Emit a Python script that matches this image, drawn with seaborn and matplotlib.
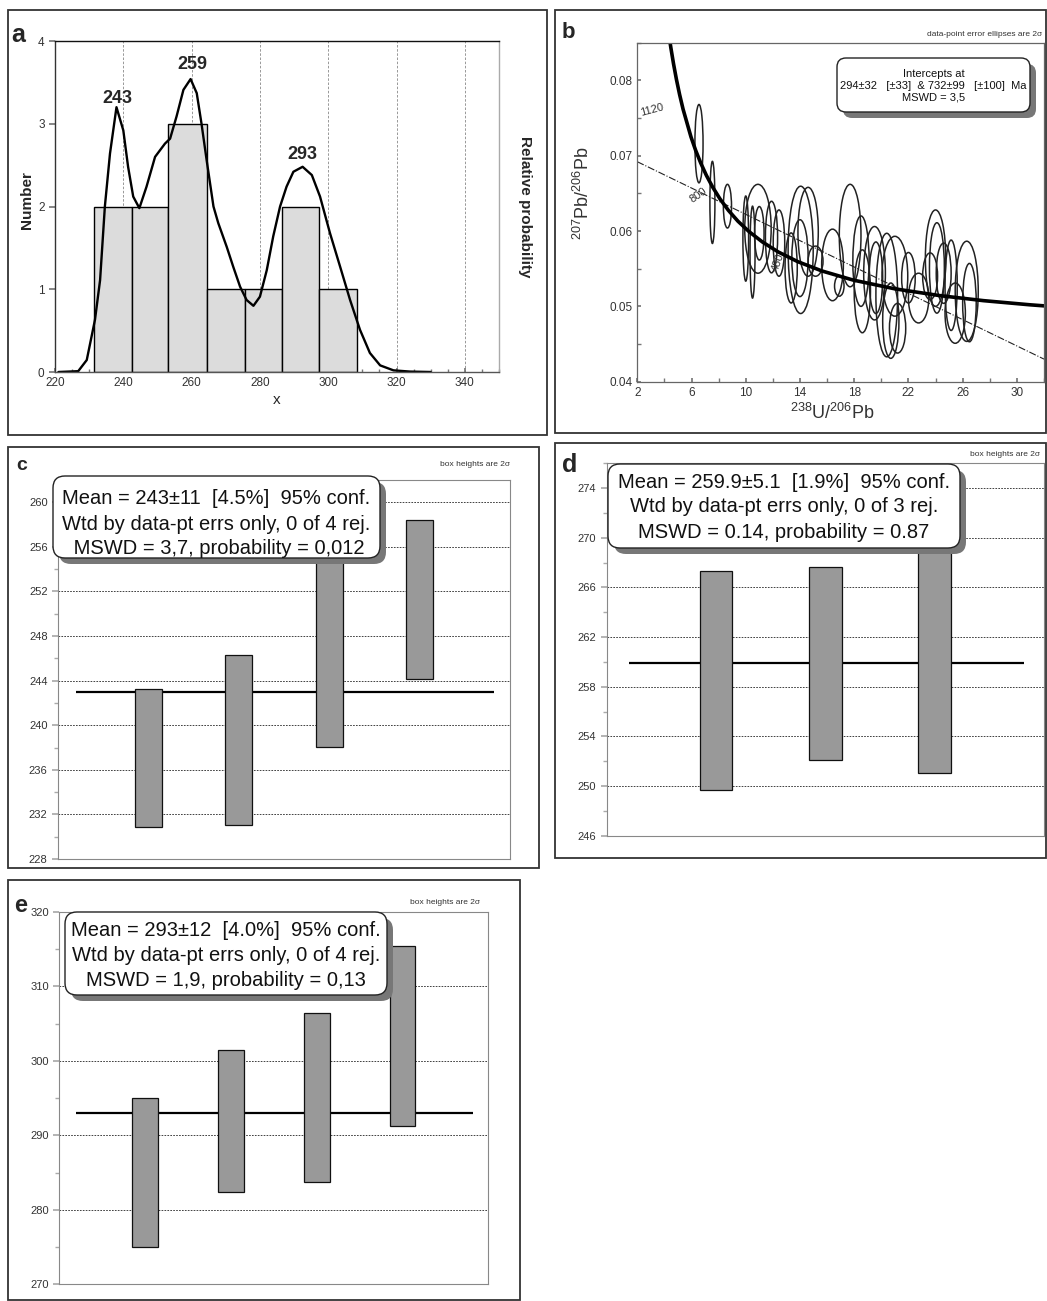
import numpy as np
import matplotlib
matplotlib.use("Agg")
import matplotlib.pyplot as plt
from matplotlib.patches import Ellipse, FancyBboxPatch, Rectangle
from matplotlib.ticker import MultipleLocator, FormatStrFormatter
from matplotlib.transforms import Affine2D
import seaborn as sns

W, H = 1047, 1301

# ---- panel a: histogram + probability curve
hist_edges = [231.4, 242.4, 253.2, 264.4, 275.6, 286.4, 297.4, 308.5]
hist_counts = [2, 2, 3, 1, 1, 2, 1]
curve_x = [221, 226.8, 229.3, 231.7, 233.2, 234.6, 236.1, 238.0, 240.0, 241.4, 242.9,
           244.7, 246.8, 249.3, 252.2, 253.7, 255.6, 257.6, 259.7, 261.5, 262.9, 264.4,
           266.4, 267.8, 270.3, 272.2, 274.2, 276.1, 278.1, 280.0, 282.0, 283.9, 285.9,
           287.8, 289.8, 292.5, 295.2, 297.6, 300.5, 303.5, 306.4, 309.3, 312.2, 315.2,
           319.1, 324.0, 330.0]
curve_y = [0.0, 0.01, 0.145, 0.63, 1.11, 2.0, 2.64, 3.20, 2.92, 2.48, 2.12,
           1.98, 2.24, 2.60, 2.76, 2.82, 3.09, 3.41, 3.54, 3.37, 3.0, 2.56,
           2.0, 1.80, 1.51, 1.27, 1.03, 0.87, 0.80, 0.91, 1.23, 1.64, 2.0,
           2.24, 2.42, 2.48, 2.38, 2.12, 1.68, 1.27, 0.87, 0.51, 0.23, 0.08,
           0.02, 0.005, 0.0]
peak_labels = ["243", "259", "293"]

# ---- panel b: Tera-Wasserburg
conc_x = [4.364, 4.476, 4.673, 4.887, 5.120, 5.374, 5.959, 6.298, 6.674, 7.095, 7.568,
          8.105, 8.718, 9.426, 10.252, 11.228, 12.399, 13.831, 15.620, 17.921, 20.99,
          24.30, 27.53, 30.95, 32.06]
conc_y = [0.08565, 0.08432, 0.08219, 0.08012, 0.07812, 0.07619, 0.07250, 0.07074,
          0.06905, 0.06739, 0.06580, 0.06425, 0.06275, 0.06130, 0.05991, 0.05855,
          0.05722, 0.05594, 0.05470, 0.05349, 0.05233, 0.05143, 0.05076, 0.05021,
          0.05006]
disc_x = [2, 32]
disc_y = [0.0692, 0.0430]
ell_x = [6.55, 7.54, 8.65, 10.0, 10.9, 10.5, 11.0, 11.9, 12.45, 14.05, 14.0, 14.6,
         13.35, 15.15, 16.4, 16.9, 17.7, 18.5, 18.6, 19.5, 19.6, 20.4, 21.0, 20.7,
         21.2, 22.0, 22.75, 24.0, 24.1, 23.6, 24.6, 25.15, 25.45, 26.3, 26.5]
ell_y = [0.0716, 0.0638, 0.0633, 0.0590, 0.0603, 0.0572, 0.0597, 0.0592, 0.0584,
         0.0575, 0.0564, 0.0599, 0.0551, 0.0560, 0.0555, 0.0527, 0.0594, 0.0560,
         0.0520, 0.0544, 0.0538, 0.0515, 0.0540, 0.0481, 0.0471, 0.0538, 0.0511,
         0.0564, 0.0551, 0.0540, 0.0544, 0.0528, 0.0491, 0.0520, 0.0505]
ell_w = [0.6, 0.37, 0.6, 0.42, 1.95, 0.37, 0.7, 0.9, 0.85, 1.85, 1.2, 1.5,
         0.9, 1.1, 1.6, 0.7, 1.6, 1.2, 1.2, 1.6, 1.0, 1.6, 1.9, 1.2,
         1.2, 1.0, 1.5, 1.5, 1.1, 1.1, 1.1, 0.9, 1.5, 1.7, 1.0]
ell_h = [0.0104, 0.0109, 0.0058, 0.0113, 0.0118, 0.0122, 0.0071, 0.0095, 0.0088,
         0.0169, 0.0102, 0.0118, 0.0093, 0.0040, 0.0095, 0.0027, 0.0136, 0.0120,
         0.0110, 0.0124, 0.0095, 0.0164, 0.0106, 0.0100, 0.0066, 0.0067, 0.0066,
         0.0128, 0.0120, 0.0062, 0.0080, 0.0120, 0.0080, 0.0133, 0.0104]
conc_ages = ["1120", "800", "480"]

# ---- panels c, d, e: weighted means
c_lo = [230.9, 231.05, 238.05, 244.15]
c_hi = [243.26, 246.3, 257.0, 258.4]
c_mean = 243
d_lo = [249.65, 252.1, 251.05]
d_hi = [267.3, 267.64, 272.5]
d_mean = 259.9
e_lo = [275.05, 282.4, 283.8, 291.3]
e_hi = [295.0, 301.5, 306.4, 315.5]
e_mean = 293

sns.set_theme(style="white")
plt.rcParams['font.family'] = ['Liberation Sans', 'DejaVu Sans']
plt.rcParams['mathtext.fontset'] = 'custom'
plt.rcParams['mathtext.rm'] = 'Liberation Sans'
plt.rcParams['mathtext.it'] = 'Liberation Sans:italic'

fig = plt.figure(figsize=(W / 100, H / 100), dpi=100)
px = Affine2D().scale(1.0 / W, -1.0 / H).translate(0, 1) + fig.transFigure


def add_ax(x0, y0, x1, y1):
    return fig.add_axes([x0 / W, 1 - y1 / H, (x1 - x0) / W, (y1 - y0) / H])


def frame(x0, y0, x1, y1):
    fig.add_artist(Rectangle((x0, y0), x1 - x0, y1 - y0, transform=px, fill=False,
                             ec='#333333', lw=1.3, zorder=0))


def note_box(x0, y0, x1, y1, txt, size, sh=6, r=12, dy=2, ls=1.2):
    fig.add_artist(FancyBboxPatch((x0 + sh, y0 + sh), x1 - x0, y1 - y0,
                                  boxstyle="round,pad=0,rounding_size=%d" % r,
                                  transform=px, fc='#777777', ec='none', zorder=5))
    fig.add_artist(FancyBboxPatch((x0, y0), x1 - x0, y1 - y0,
                                  boxstyle="round,pad=0,rounding_size=%d" % r,
                                  transform=px, fc='white', ec='#222222', lw=1.0, zorder=6))
    fig.text((x0 + x1) / 2, (y0 + y1) / 2 + dy, txt, transform=px, ha='center', va='center',
             fontsize=size, linespacing=ls, color='#111111', zorder=7)


# panel frames
frame(8, 10, 547, 435)
frame(555, 10, 1046, 433)
frame(8, 447, 539, 868)
frame(555, 443, 1046, 858)
frame(8, 880, 520, 1300)

# ---------------- a
ax = add_ax(55, 41, 499, 372)
mids = [(hist_edges[i] + hist_edges[i + 1]) / 2 for i in range(len(hist_counts))]
sns.histplot(x=mids, weights=hist_counts, bins=hist_edges, ax=ax, color='#dcdcdc',
             edgecolor='black', linewidth=1.0, alpha=1)
for g in [240, 260, 280, 300, 320, 340]:
    ax.axvline(g, color='#888888', lw=0.6, ls=(0, (3, 2)), zorder=0.5)
sns.lineplot(x=curve_x, y=curve_y, ax=ax, color='black', lw=1.7, sort=False)
ax.set_xlim(220, 350)
ax.set_ylim(0, 4)
ax.set_xticks(range(220, 341, 20))
ax.set_yticks(range(0, 5))
ax.xaxis.set_minor_locator(MultipleLocator(5))
ax.tick_params(axis='x', which='both', direction='in', length=3, color='#777777',
               labelsize=8.5, labelcolor='#333333', bottom=True)
ax.tick_params(axis='x', which='minor', length=2)
ax.tick_params(axis='y', direction='out', length=4, color='#777777', labelsize=8.5,
               labelcolor='#333333', left=True)
ax.set_xlabel("")
ax.set_ylabel("")
for s, c in [('left', '#333333'), ('bottom', '#555555'), ('top', '#111111'), ('right', '#aaaaaa')]:
    ax.spines[s].set_color(c)
    ax.spines[s].set_linewidth(1.0)
for lab, xx, yy in zip(peak_labels, [238.4, 260.1, 292.3], [3.30, 3.71, 2.63]):
    ax.text(xx, yy, lab, ha='center', va='center', fontsize=13, fontweight='bold')
fig.text(18, 35, "a", transform=px, fontsize=18, fontweight='bold', ha='center', va='center')
fig.text(27, 200, "Number", transform=px, rotation=90, fontsize=11, fontweight='bold',
         ha='center', va='center')
fig.text(525, 207, "Relative probability", transform=px, rotation=-90, fontsize=11,
         fontweight='bold', ha='center', va='center')
fig.text(277, 400, "x", transform=px, fontsize=11, ha='center', va='center')

# ---------------- b
ax = add_ax(637.3, 42.7, 1044, 381.7)
ax.plot(disc_x, disc_y, color='#222222', lw=0.8, ls='-.')
for x, y, w, h in zip(ell_x, ell_y, ell_w, ell_h):
    ax.add_patch(Ellipse((x, y), w, h, fill=False, ec='#222222', lw=1.1))
sns.lineplot(x=conc_x, y=conc_y, ax=ax, color='black', lw=2.6, sort=False)
ax.set_xlim(2, 32)
ax.set_ylim(0.04, 0.085)
ax.set_xticks(range(2, 31, 4))
ax.xaxis.set_minor_locator(MultipleLocator(2))
ax.set_yticks([0.04, 0.05, 0.06, 0.07, 0.08])
ax.yaxis.set_minor_locator(MultipleLocator(0.005))
ax.yaxis.set_major_formatter(FormatStrFormatter('%.2f'))
ax.tick_params(which='both', direction='in', length=3, color='#777777', labelsize=8.5,
               labelcolor='#333333', bottom=True, left=True)
ax.set_xlabel("")
ax.set_ylabel("")
for s in ax.spines.values():
    s.set_color('#666666')
    s.set_linewidth(0.9)
for lab, xx, yy, rot in zip(conc_ages, [3.06, 6.48, 12.37], [0.0761, 0.0648, 0.0558], [15, 35, 70]):
    ax.text(xx, yy, lab, ha='center', va='center', fontsize=8, color='#333333', rotation=rot)
fig.text(568, 33, "b", transform=px, fontsize=16, fontweight='bold', ha='center', va='center')
fig.text(1042, 35, "data-point error ellipses are 2σ", transform=px, fontsize=6,
         ha='right', va='center', color='#333333')
fig.text(583, 193, "$^{207}$Pb/$^{206}$Pb", transform=px, rotation=90, fontsize=13,
         ha='center', va='center', color='#333333')
fig.text(832, 413, "$^{238}$U/$^{206}$Pb", transform=px, fontsize=13,
         ha='center', va='center', color='#333333')
note_box(837, 58, 1030, 112, "Intercepts at\n294±32   [±33]  & 732±99   [±100]  Ma\nMSWD = 3,5",
         8, sh=6, r=9, dy=1, ls=1.25)


# ---------------- c, d, e
def mean_panel(rect, lo, hi, mean, ylim, major, minor):
    ax = add_ax(*rect)
    n = len(lo)
    pos = np.arange(1, n + 1)
    ax.bar(pos, np.array(hi) - np.array(lo), bottom=lo, width=0.3, color='#999999',
           edgecolor='#111111', linewidth=0.9, zorder=3)
    ax.hlines(mean, 0.2, n + 0.82, color='black', lw=1.6, zorder=2)
    ax.set_xlim(0, n + 1)
    ax.set_ylim(*ylim)
    ax.set_yticks(np.arange(ylim[0], ylim[1] + 0.01, major))
    ax.yaxis.set_minor_locator(MultipleLocator(minor))
    ax.set_xticks([])
    ax.grid(axis='y', which='major', color='#222222', lw=0.6, ls=(0, (2, 1.5)), zorder=1)
    ax.tick_params(axis='y', which='both', direction='out', length=4, color='#aaaaaa',
                   labelsize=8, labelcolor='#333333', left=True)
    ax.tick_params(axis='y', which='minor', length=3)
    for s in ax.spines.values():
        s.set_color('#888888')
        s.set_linewidth(0.8)
    return ax


mean_panel((58, 480, 510, 859), c_lo, c_hi, c_mean, (228, 262), 4, 2)
mean_panel((606.7, 463.3, 1044, 835.7), d_lo, d_hi, d_mean, (246, 276), 4, 2)
mean_panel((59.3, 912, 488.3, 1284.3), e_lo, e_hi, e_mean, (270, 320), 10, 5)

fig.text(22, 466, "c", transform=px, fontsize=14, fontweight='bold', ha='center', va='center')
fig.text(570, 465, "d", transform=px, fontsize=18, fontweight='bold', ha='center', va='center')
fig.text(21, 905, "e", transform=px, fontsize=17, fontweight='bold', ha='center', va='center')
for xr, yy in [(510, 465), (1040, 455), (480, 903)]:
    fig.text(xr, yy, "box heights are 2σ", transform=px, fontsize=6, ha='right',
             va='center', color='#333333')

note_box(53, 476, 380, 558, "Mean = 243±11  [4.5%]  95% conf.\nWtd by data-pt errs only, 0 of 4 rej.\n"
         " MSWD = 3,7, probability = 0,012", 14.5, dy=7, ls=1.4)
note_box(608, 464, 960, 548, "Mean = 259.9±5.1  [1.9%]  95% conf.\nWtd by data-pt errs only, 0 of 3 rej.\n"
         "MSWD = 0.14, probability = 0.87", 14.5, dy=1, ls=1.4)
note_box(65, 912, 387, 995, "Mean = 293±12  [4.0%]  95% conf.\nWtd by data-pt errs only, 0 of 4 rej.\n"
         "MSWD = 1,9, probability = 0,13", 14.5, dy=2, ls=1.4)

fig.savefig("out.png", dpi=100)
